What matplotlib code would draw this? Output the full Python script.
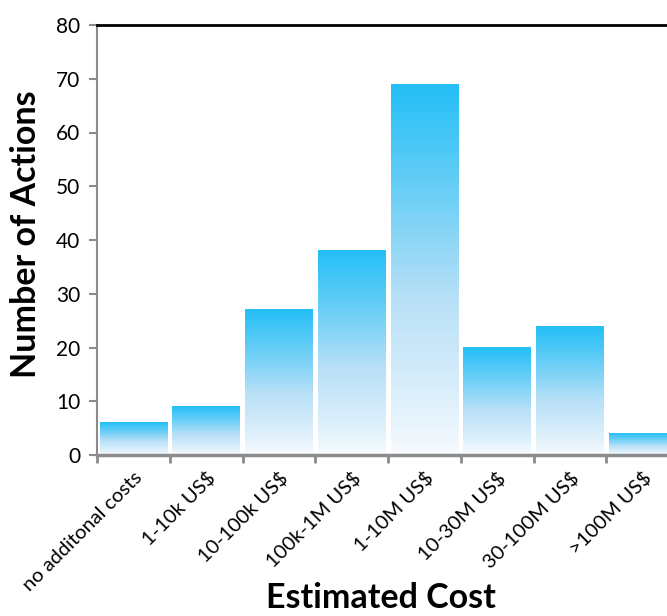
import matplotlib.pyplot as plt
import numpy as np
from matplotlib.colors import LinearSegmentedColormap

# bar values
categories = ['no additonal costs', '1-10k US$', '10-100k US$', '100k-1M US$',
              '1-10M US$', '10-30M US$', '30-100M US$', '>100M US$']
actions = [6, 9, 27, 38, 69, 20, 24, 4]

plt.rcParams['font.family'] = ['Lato', 'DejaVu Sans']

fig = plt.figure(figsize=(6.67, 6.16), dpi=100)
ax = fig.add_axes([97/667, 1 - 455/616, 582/667, 430/616])

# blue at the top of each bar fading to white at the bottom
cmap = LinearSegmentedColormap.from_list('fade', ['#fafcff', '#b9e0f7', '#24bff6'])
grad = np.linspace(0, 1, 256).reshape(-1, 1) ** 0.8

width = 0.93
bars = ax.bar(range(len(categories)), actions, width=width, color='none', edgecolor='none')
for b in bars:
    x0, h = b.get_x(), b.get_height()
    ax.imshow(grad, cmap=cmap, aspect='auto', origin='lower',
              extent=[x0, x0 + width, 0, h], zorder=2)

ax.set_xlim(-0.5, len(categories) - 0.5)
ax.set_ylim(0, 80)
ax.set_yticks(range(0, 81, 10))
ax.set_xticks(np.arange(len(categories)) - 0.5, minor=False)
ax.set_xticklabels([])
ax.set_xticks(range(len(categories)), minor=True)
ax.set_xticklabels(categories, minor=True, rotation=45, ha='right',
                   rotation_mode='anchor', fontsize=14.5)
ax.tick_params(axis='x', which='minor', length=0, pad=10)
ax.tick_params(axis='x', which='major', length=6, width=2, color='#8c8c8c')
ax.tick_params(axis='y', length=6, width=1.5, color='#8c8c8c', labelsize=15, pad=6)

for side in ['left', 'bottom']:
    ax.spines[side].set_color('#8c8c8c')
ax.spines['left'].set_linewidth(1.5)
ax.spines['bottom'].set_linewidth(2.5)
ax.spines['top'].set_color('black')
ax.spines['top'].set_linewidth(2)
ax.spines['right'].set_visible(False)

ax.set_ylabel('Number of Actions', fontsize=24.5, fontweight='bold')
ax.set_xlabel('Estimated Cost', fontsize=24.5, fontweight='bold')
ax.xaxis.set_label_coords(0.488, -0.296)
ax.yaxis.set_label_coords(-0.094, 0.513)

fig.savefig('out.png', dpi=100)
